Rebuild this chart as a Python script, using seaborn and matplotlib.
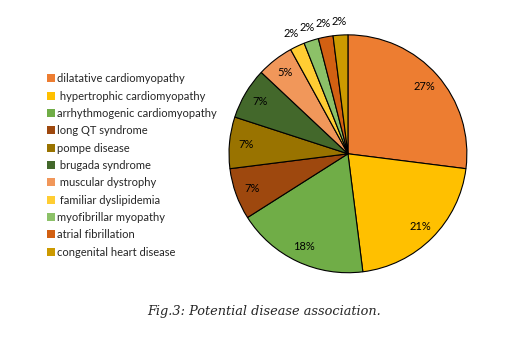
import matplotlib.pyplot as plt
import seaborn as sns

sns.set_theme(style="white")
plt.rcParams['font.family'] = ['Lato', 'DejaVu Sans']

# share of each disease, in percent
diseases = ['dilatative cardiomyopathy', ' hypertrophic cardiomyopathy',
            'arrhythmogenic cardiomyopathy', 'long QT syndrome', 'pompe disease',
            ' brugada syndrome', ' muscular dystrophy', ' familiar dyslipidemia',
            'myofibrillar myopathy', 'atrial fibrillation', 'congenital heart disease']
shares = [27, 21, 18, 7, 7, 7, 5, 2, 2, 2, 2]
colors = ['#ED7D31', '#FFC000', '#70AD47', '#9E480E', '#997300', '#43682B',
          '#F1975A', '#FFCD33', '#8CC168', '#D26012', '#CC9A00']

fig = plt.figure(figsize=(5.3, 3.56), dpi=100)
ax = fig.add_axes([0.376, 0.15, 0.561, 0.836])

wedges, texts, autotexts = ax.pie(
    shares, colors=colors, startangle=90, counterclock=False,
    autopct='%1.0f%%', pctdistance=0.86,
    wedgeprops=dict(edgecolor='black', linewidth=0.8),
    textprops=dict(fontsize=8, color='black'))
ax.set_xlim(-1.25, 1.25)
ax.set_ylim(-1.25, 1.25)
ax.set_aspect('equal')

# small slices get their label just outside the pie
for t, s in zip(autotexts, shares):
    if s < 3:
        x, y = t.get_position()
        t.set_position((x * 1.3, y * 1.3))

fig.legend(wedges, diseases, loc='upper left', bbox_to_anchor=(0.078, 0.81),
           frameon=False, fontsize=8, handlelength=0.7, handleheight=0.7,
           handletextpad=0.2, labelspacing=0.57, borderpad=0)
for h in fig.legends[0].legend_handles:
    h.set_edgecolor('none')

fig.text(0.498, 0.126, 'Fig.3: Potential disease association.', ha='center',
         va='center', fontsize=9.3, style='italic', family=['DejaVu Serif'])

fig.savefig('out.png', dpi=100, facecolor='white')
